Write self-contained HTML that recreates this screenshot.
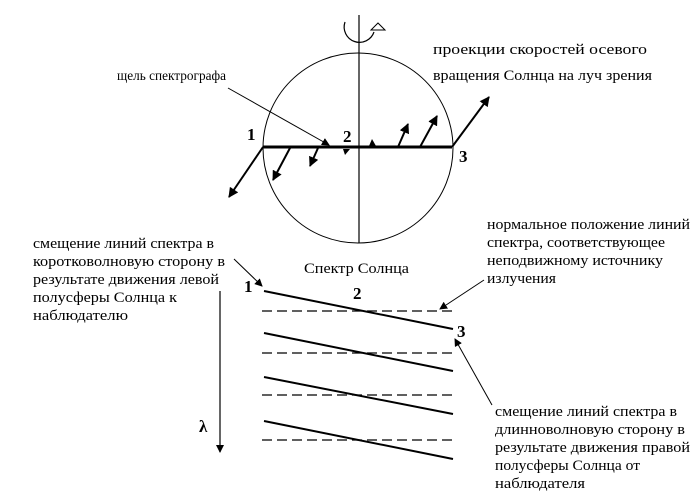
<!DOCTYPE html>
<html><head><meta charset="utf-8"><style>
body{margin:0;background:#fff}
svg{display:block}
text{font-family:"Liberation Serif",serif;font-size:15px;fill:#000}
.n{font-size:17px;font-weight:bold}
</style></head><body>
<svg width="700" height="499" viewBox="0 0 700 499" xmlns="http://www.w3.org/2000/svg">
<defs>
<marker id="a" markerWidth="8" markerHeight="8" refX="7" refY="4" orient="auto" markerUnits="userSpaceOnUse"><path d="M0,0 L8,4 L0,8 Z" fill="#000"/></marker>
<marker id="b" markerWidth="10" markerHeight="10" refX="9" refY="5" orient="auto" markerUnits="userSpaceOnUse"><path d="M0,0 L10,5 L0,10 Z" fill="#000"/></marker>
</defs>
<circle cx="358" cy="148" r="95" fill="none" stroke="#000" stroke-width="1"/>
<line x1="359" y1="15" x2="359" y2="243" stroke="#000" stroke-width="1.2"/>
<path d="M345,22 A14,14 0 0 0 374,32" fill="none" stroke="#000" stroke-width="1.2"/>
<path d="M378,23 L385,30 L371,30 Z" fill="#fff" stroke="#000" stroke-width="1"/>
<line x1="263" y1="147" x2="452" y2="147" stroke="#000" stroke-width="3"/>
<g stroke="#000" stroke-width="2" marker-end="url(#b)">
<line x1="263" y1="147" x2="229" y2="197"/>
<line x1="290" y1="148" x2="273" y2="180"/>
<line x1="318" y1="148" x2="310" y2="166"/>
<line x1="398" y1="147" x2="408" y2="124"/>
<line x1="420" y1="147" x2="437" y2="116"/>
<line x1="452" y1="147" x2="489" y2="97"/>
</g>
<path d="M343,149 L350,149 L345,155 Z" fill="#000"/>
<path d="M372,139 L376,146 L369,146 Z" fill="#000"/>
<line x1="228" y1="88" x2="329" y2="145" stroke="#000" stroke-width="1" marker-end="url(#a)"/>
<text class="n" x="247" y="140">1</text>
<text class="n" x="343" y="142">2</text>
<text class="n" x="459" y="162">3</text>
<text x="433" y="54" textLength="214" lengthAdjust="spacingAndGlyphs">проекции скоростей осевого</text>
<text x="433" y="80" textLength="219" lengthAdjust="spacingAndGlyphs">вращения Солнца на луч зрения</text>
<text x="117" y="80" style="font-size:14px" textLength="109" lengthAdjust="spacingAndGlyphs">щель спектрографа</text>
<text x="304" y="273" textLength="105" lengthAdjust="spacingAndGlyphs">Спектр Солнца</text>
<g stroke="#000" stroke-width="2">
<line x1="264" y1="291" x2="453" y2="329"/>
<line x1="264" y1="333" x2="453" y2="371"/>
<line x1="264" y1="377" x2="453" y2="414"/>
<line x1="264" y1="421" x2="453" y2="459"/>
</g>
<g stroke="#000" stroke-width="1.2" stroke-dasharray="10,5">
<line x1="262" y1="311" x2="455" y2="311"/>
<line x1="262" y1="353" x2="455" y2="353"/>
<line x1="262" y1="395" x2="455" y2="395"/>
<line x1="262" y1="440" x2="455" y2="440"/>
</g>
<line x1="220" y1="291" x2="220" y2="452" stroke="#000" stroke-width="1.2" marker-end="url(#a)"/>
<text class="n" x="199" y="432">λ</text>
<text class="n" x="244" y="292">1</text>
<text class="n" x="353" y="299">2</text>
<text class="n" x="457" y="337">3</text>
<line x1="234" y1="259" x2="262" y2="286" stroke="#000" stroke-width="1" marker-end="url(#a)"/>
<line x1="484" y1="280" x2="440" y2="309" stroke="#000" stroke-width="1" marker-end="url(#a)"/>
<line x1="492" y1="405" x2="455" y2="339" stroke="#000" stroke-width="1" marker-end="url(#a)"/>
<text x="33" y="248" textLength="181" lengthAdjust="spacingAndGlyphs">смещение линий спектра в</text>
<text x="33" y="266" textLength="192" lengthAdjust="spacingAndGlyphs">коротковолновую сторону в</text>
<text x="33" y="284" textLength="186" lengthAdjust="spacingAndGlyphs">результате движения левой</text>
<text x="33" y="302" textLength="144" lengthAdjust="spacingAndGlyphs">полусферы Солнца к</text>
<text x="33" y="320" textLength="95" lengthAdjust="spacingAndGlyphs">наблюдателю</text>
<text x="487" y="229" textLength="203" lengthAdjust="spacingAndGlyphs">нормальное положение линий</text>
<text x="487" y="247" textLength="178" lengthAdjust="spacingAndGlyphs">спектра, соответствующее</text>
<text x="487" y="265" textLength="176" lengthAdjust="spacingAndGlyphs">неподвижному источнику</text>
<text x="487" y="283" textLength="69" lengthAdjust="spacingAndGlyphs">излучения</text>
<text x="495" y="416" textLength="182" lengthAdjust="spacingAndGlyphs">смещение линий спектра в</text>
<text x="495" y="434" textLength="190" lengthAdjust="spacingAndGlyphs">длинноволновую сторону в</text>
<text x="495" y="452" textLength="195" lengthAdjust="spacingAndGlyphs">результате движения правой</text>
<text x="495" y="470" textLength="145" lengthAdjust="spacingAndGlyphs">полусферы Солнца от</text>
<text x="495" y="488" textLength="90" lengthAdjust="spacingAndGlyphs">наблюдателя</text>
</svg>
</body></html>
